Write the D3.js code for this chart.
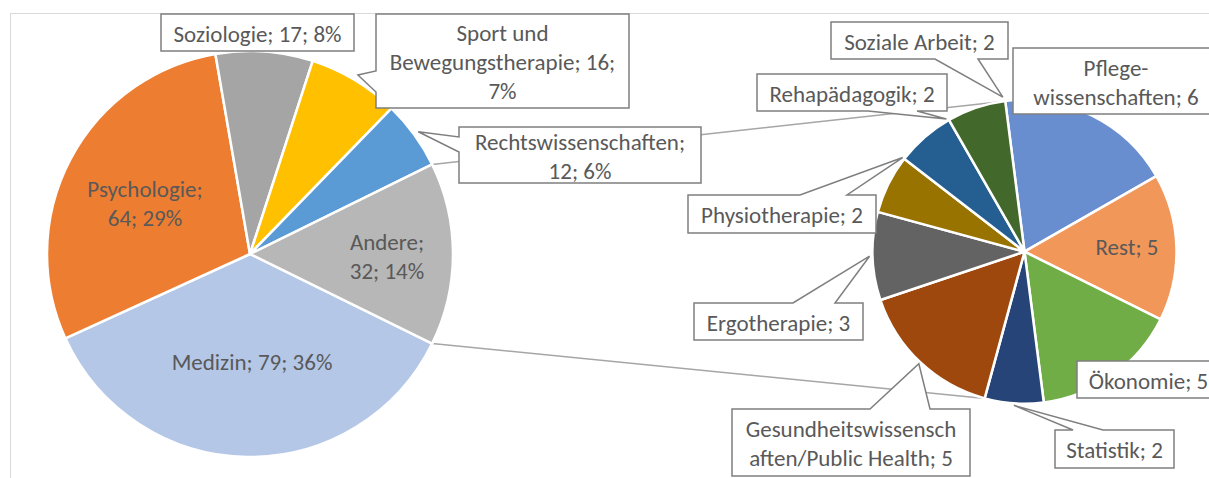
<!DOCTYPE html>
<html><head><meta charset="utf-8">
<script src="https://cdn.jsdelivr.net/npm/d3@7"></script>
<style>
body{margin:0;background:#fff}
svg{display:block}
text{font-family:Carlito,Calibri,Lato,"Open Sans",sans-serif;font-size:23px;fill:#595959}
</style>
</head><body>
<svg id="c" width="1209" height="478"></svg>
<script>
// ---------- data ----------
const mainCategories = ["Medizin","Psychologie","Soziologie","Sport und Bewegungstherapie","Rechtswissenschaften","Andere"];
const mainValues = [79,64,17,16,12,32];
const mainPercents = [36,29,8,7,6,14];
const mainColors = ["#b4c7e7","#ed7d31","#a5a5a5","#ffc000","#5b9bd5","#b7b7b7"];

const subCategories = ["Pflege-wissenschaften","Rest","Ökonomie","Statistik","Gesundheitswissenschaften/Public Health","Ergotherapie","Physiotherapie","Rehapädagogik","Soziale Arbeit"];
const subValues = [6,5,5,2,5,3,2,2,2];
const subColors = ["#698ed0","#f1975a","#70ad47","#264478","#9e480e","#636363","#997300","#255e91","#43682b"];

// ---------- layout ----------
const deg = Math.PI/180;
const L = {cx:250, cy:254, r:203};
const R = {cx:1024.5, cy:251.7, r:152};
const subStartDeg = -7.3;
const connectorEndDeg = [-10, 195];
const lineH = 29;

const labelLayout = {
  "Medizin": {pos:[252,362]},
  "Psychologie": {pos:[145,203], breaks:["Psychologie; "]},
  "Soziologie": {box:[161,14,354,51]},
  "Sport und Bewegungstherapie": {box:[376,14,629,108], breaks:["und ","16; "], ptr:{side:"left", b:[71,92], frac:0.5, dr:6}},
  "Rechtswissenschaften": {box:[459,127,701,183], breaks:["Rechtswissenschaften; "], ptr:{side:"left", b:[137,152], frac:0.5, dr:5}},
  "Andere": {pos:[387,256], breaks:["Andere; "]},
  "Pflege-wissenschaften": {box:[1013,48,1219,114], breaks:["Pflege-"]},
  "Rest": {pos:[1127,247]},
  "Ökonomie": {box:[1077,361,1220,398]},
  "Statistik": {box:[1055,430,1174,468], ptr:{side:"top", b:[1073,1103], frac:0.5, dr:2}},
  "Gesundheitswissenschaften/Public Health": {box:[732,409,970,476], breaks:["Gesundheitswissensch"], ptr:{side:"top", b:[870,930], frac:0.5, dr:2}},
  "Ergotherapie": {box:[694,303,863,340], ptr:{side:"top", b:[793,835], frac:0.5, dr:3}},
  "Physiotherapie": {box:[688,195,876,233], ptr:{side:"top", b:[800,847], frac:1.0, dr:2}},
  "Rehapädagogik": {box:[757,74,947,111], ptr:{side:"bottom", b:[868,917], frac:0.97, dr:2}},
  "Soziale Arbeit": {box:[831,22,1008,59], ptr:{side:"bottom", b:[935,978], frac:0.97, dr:4}}
};

// ---------- chart ----------
const svg = d3.select("#c");
const pt = (c,a,r) => [c.cx + r*Math.sin(a), c.cy - r*Math.cos(a)];

svg.append("rect").attr("x",10.5).attr("y",13.5).attr("width",1400).attr("height",700)
  .attr("fill","none").attr("stroke","#d9d9d9").attr("stroke-width",1);

const total = d3.sum(mainValues);
const otherShare = mainValues[mainValues.length-1]/total;
const mainStart = Math.PI/2 + Math.PI*otherShare;
const mainArcs = d3.pie().sort(null).startAngle(mainStart).endAngle(mainStart+2*Math.PI)(mainValues);
const subStart = subStartDeg*deg;
const subArcs = d3.pie().sort(null).startAngle(subStart).endAngle(subStart+2*Math.PI)(subValues);

// connector lines
const other = mainArcs[mainArcs.length-1];
const conn = [
  [pt(L, other.startAngle, L.r), pt(R, connectorEndDeg[0]*deg, R.r)],
  [pt(L, other.endAngle, L.r), pt(R, connectorEndDeg[1]*deg, R.r)]
];
svg.append("g").selectAll("line").data(conn).join("line")
  .attr("x1",d=>d[0][0]).attr("y1",d=>d[0][1]).attr("x2",d=>d[1][0]).attr("y2",d=>d[1][1])
  .attr("stroke","#a6a6a6").attr("stroke-width",1.5);

function drawPie(c, arcs, colors){
  const arc = d3.arc().innerRadius(0).outerRadius(c.r);
  svg.append("g").attr("transform",`translate(${c.cx},${c.cy})`)
    .selectAll("path").data(arcs).join("path")
    .attr("d",arc).attr("fill",(d,i)=>colors[i])
    .attr("stroke","#fff").attr("stroke-width",2.5).attr("stroke-linejoin","round");
}
drawPie(L, mainArcs, mainColors);
drawPie(R, subArcs, subColors);

// labels
function splitText(t, breaks){
  if(!breaks) return [t];
  const out=[]; let pos=0;
  breaks.forEach(m=>{const i=t.indexOf(m,pos); if(i>=0){const e=i+m.length; out.push(t.slice(pos,e).trim()); pos=e;}});
  out.push(t.slice(pos).trim());
  return out;
}
function calloutPath(b, p, tip){
  const [x0,y0,x1,y1]=b;
  let pts;
  if(!p) pts=[[x0,y0],[x1,y0],[x1,y1],[x0,y1]];
  else if(p.side==="top") pts=[[x0,y0],[p.b[0],y0],tip,[p.b[1],y0],[x1,y0],[x1,y1],[x0,y1]];
  else if(p.side==="bottom") pts=[[x0,y0],[x1,y0],[x1,y1],[p.b[1],y1],tip,[p.b[0],y1],[x0,y1]];
  else pts=[[x0,y0],[x1,y0],[x1,y1],[x0,y1],[x0,p.b[1]],tip,[x0,p.b[0]]];
  return "M"+pts.map(q=>q.join(",")).join("L")+"Z";
}

const labels = [];
mainArcs.forEach((a,i)=>labels.push({c:L, a, text:`${mainCategories[i]}; ${mainValues[i]}; ${mainPercents[i]}%`, key:mainCategories[i]}));
subArcs.forEach((a,i)=>labels.push({c:R, a, text:`${subCategories[i]}; ${subValues[i]}`, key:subCategories[i]}));

const lg = svg.append("g");
labels.forEach(d=>{
  const lay = labelLayout[d.key];
  const lines = splitText(d.text, lay.breaks);
  let cx, cy;
  if(lay.box){
    let tip=null;
    if(lay.ptr){
      const ang = d.a.startAngle + lay.ptr.frac*(d.a.endAngle-d.a.startAngle);
      tip = pt(d.c, ang, d.c.r + lay.ptr.dr);
    }
    lg.append("path").attr("d",calloutPath(lay.box, lay.ptr, tip))
      .attr("fill","#fff").attr("stroke","#7f7f7f").attr("stroke-width",1.5).attr("stroke-linejoin","miter");
    cx=(lay.box[0]+lay.box[2])/2; cy=(lay.box[1]+lay.box[3])/2+1;
  } else { cx=lay.pos[0]; cy=lay.pos[1]; }
  const t = lg.append("text").attr("text-anchor","middle");
  lines.forEach((s,k)=>{
    t.append("tspan").attr("x",cx).attr("y",cy+(k-(lines.length-1)/2)*lineH).attr("dy","0.35em").text(s);
  });
});
</script>
</body></html>
